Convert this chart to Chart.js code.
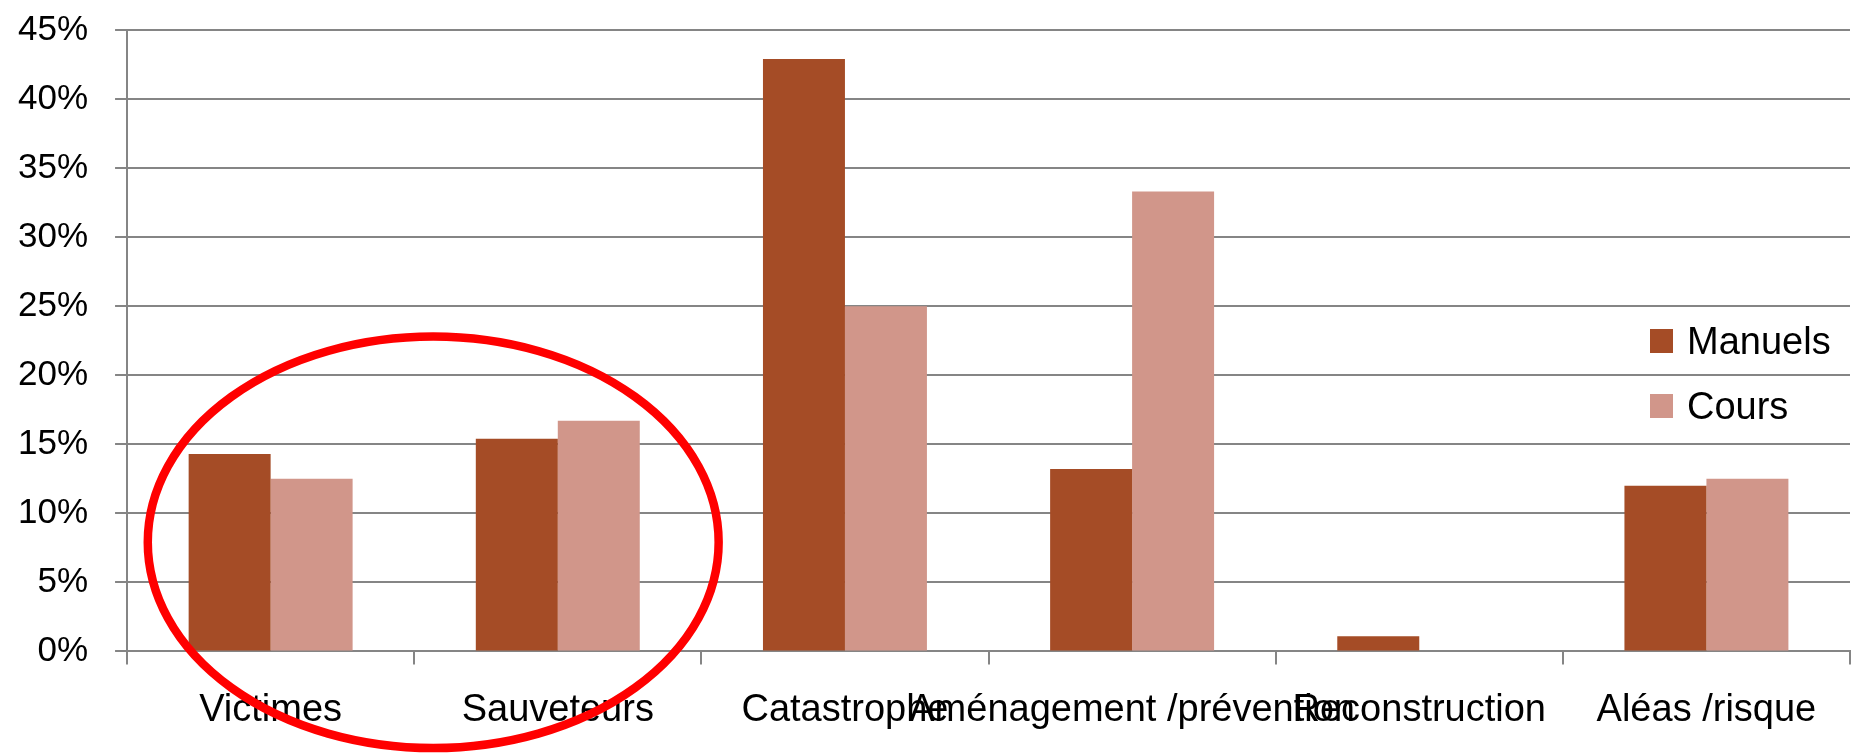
<!DOCTYPE html>
<html>
<head>
<meta charset="utf-8">
<script src="https://cdn.jsdelivr.net/npm/chart.js@4"></script>
<style>
  body { margin: 0; background: #fff; }
  #wrap { position: relative; width: 1852px; height: 753px; }
  #legend { position: absolute; left: 1650px; top: 329px; font-family: 'Liberation Sans', Arial, sans-serif; font-size: 38px; color: #000; }
  #legend .item { display: flex; align-items: center; height: 24px; margin-bottom: 41px; white-space: nowrap; }
  #legend .box { width: 23px; height: 24px; margin-right: 14px; flex: none; }
</style>
</head>
<body>
<div id="wrap">
  <canvas id="themesChart" width="1852" height="753"></canvas>
  <div id="legend"></div>
</div>
<script>
// Données (en %)
var categories = ['Victimes', 'Sauveteurs', 'Catastrophe', 'Aménagement /prévention', 'Reconstruction', 'Aléas /risque'];
var manuels = [14.3, 15.4, 42.9, 13.2, 1.1, 12.0];
var cours = [12.5, 16.7, 25.0, 33.3, 0, 12.5];
var seriesLabels = ['Manuels', 'Cours'];
var seriesColors = ['#A54C26', '#D1968A'];
var yTicks = [0, 5, 10, 15, 20, 25, 30, 35, 40, 45];

var gridColor = '#858585';
var fontFamily = "'Liberation Sans', Arial, sans-serif";

// ellipse rouge autour de Victimes / Sauveteurs
var ellipsePlugin = {
    id: 'ellipse',
    afterDraw: function (chart) {
        var x = chart.scales.x, y = chart.scales.y;
        var x0 = x.getPixelForValue(0), x1 = x.getPixelForValue(1);
        var cx = (x0 + x1) / 2 + 19;
        var rx = (x1 - x0) * 0.994;
        var cy = y.getPixelForValue(7.9);
        var ry = y.getPixelForValue(0) - y.getPixelForValue(14.9);
        var ctx = chart.ctx;
        ctx.save();
        ctx.beginPath();
        ctx.ellipse(cx, cy, rx, ry, 0, 0, Math.PI * 2);
        ctx.lineWidth = 8.5;
        ctx.strokeStyle = '#ff0000';
        ctx.stroke();
        ctx.restore();
    }
};

document.addEventListener('DOMContentLoaded', function () {
    var ctx = document.getElementById('themesChart').getContext('2d');
    var chart = new Chart(ctx, {
        type: 'bar',
        data: {
            labels: categories,
            datasets: [{
                label: seriesLabels[0],
                data: manuels,
                backgroundColor: seriesColors[0],
                categoryPercentage: 0.571,
                barPercentage: 1.0
            }, {
                label: seriesLabels[1],
                data: cours,
                backgroundColor: seriesColors[1],
                categoryPercentage: 0.571,
                barPercentage: 1.0
            }]
        },
        options: {
            responsive: false,
            animation: false,
            layout: {
                padding: { left: -9, right: 2, top: 30, bottom: -3 }
            },
            plugins: {
                legend: { display: false },
                tooltip: { enabled: false }
            },
            scales: {
                x: {
                    grid: {
                        display: true,
                        drawOnChartArea: false,
                        drawTicks: true,
                        tickLength: 13,
                        color: gridColor,
                        lineWidth: 2,
                        offset: true
                    },
                    border: { display: true, color: gridColor, width: 2 },
                    ticks: {
                        autoSkip: false,
                        maxRotation: 0,
                        minRotation: 0,
                        padding: 23,
                        color: '#000',
                        font: { family: fontFamily, size: 38 }
                    }
                },
                y: {
                    min: 0,
                    max: 45,
                    afterBuildTicks: function (axis) {
                        axis.ticks = yTicks.map(function (v) { return { value: v }; });
                    },
                    // pas de marge automatique au-dessus du dernier libellé
                    afterFit: function (axis) {
                        axis.paddingTop = 0;
                    },
                    grid: {
                        color: gridColor,
                        lineWidth: 2,
                        tickLength: 12
                    },
                    border: { display: true, color: gridColor, width: 2 },
                    ticks: {
                        padding: 27,
                        color: '#000',
                        font: { family: fontFamily, size: 35 },
                        callback: function (value) { return value + '%'; }
                    }
                }
            }
        },
        plugins: [ellipsePlugin]
    });

    // légende HTML dans la zone du graphique
    var legend = document.getElementById('legend');
    seriesLabels.forEach(function (name, i) {
        var item = document.createElement('div');
        item.className = 'item';
        var box = document.createElement('span');
        box.className = 'box';
        box.style.background = seriesColors[i];
        var txt = document.createElement('span');
        txt.textContent = name;
        item.appendChild(box);
        item.appendChild(txt);
        legend.appendChild(item);
    });
});
</script>
</body>
</html>
